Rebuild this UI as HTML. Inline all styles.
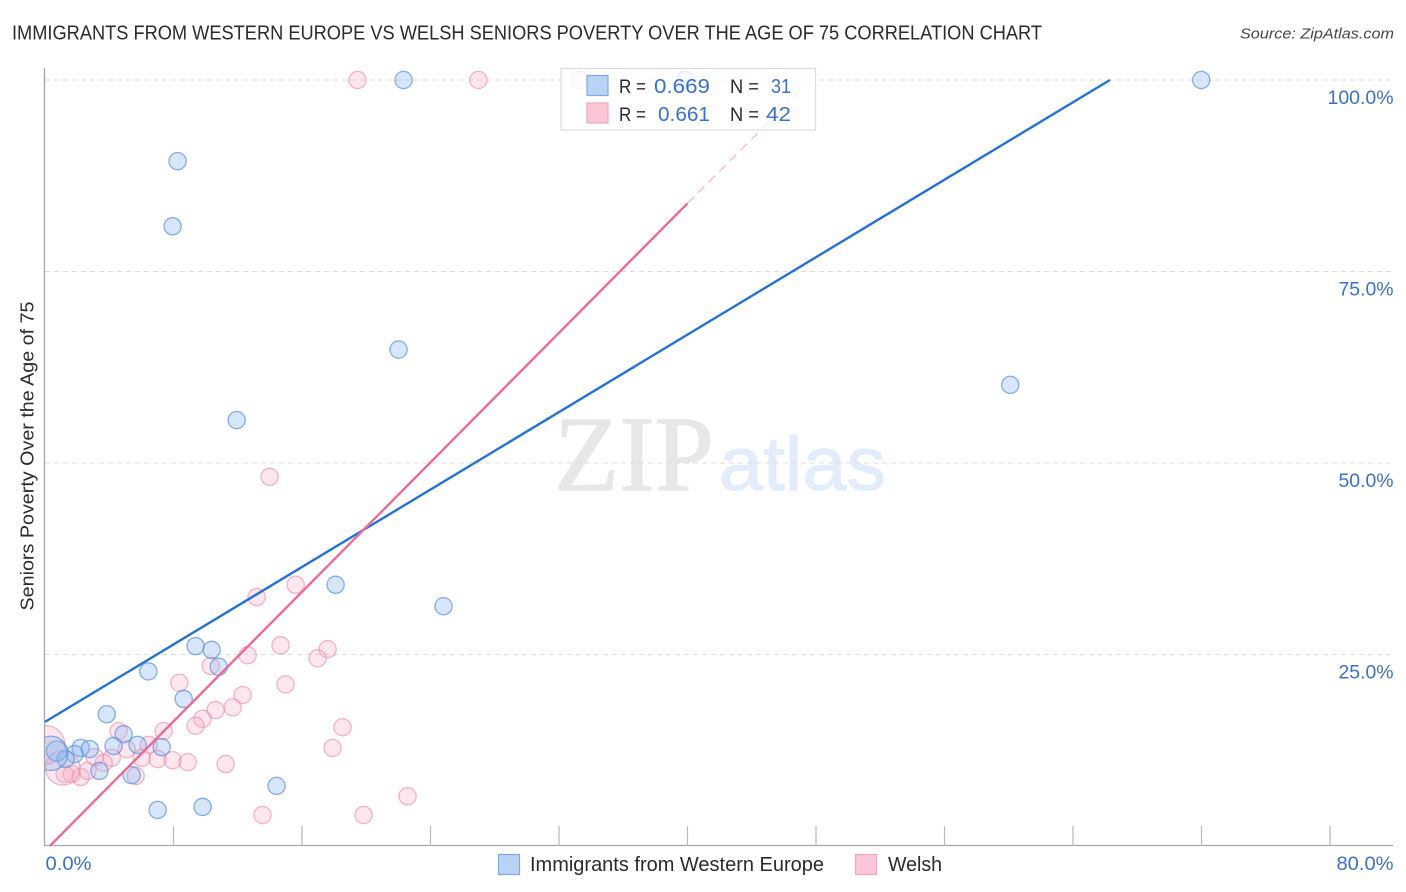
<!DOCTYPE html>
<html lang="en">
<head>
<meta charset="utf-8">
<title>Immigrants from Western Europe vs Welsh Seniors Poverty Correlation Chart</title>
<style>
html,body{margin:0;padding:0;background:#fff;width:1406px;height:892px;overflow:hidden}
svg{display:block;font-family:"Liberation Sans",sans-serif}
</style>
</head>
<body>
<svg id="chart" width="1406" height="892" viewBox="0 0 1406 892" xmlns="http://www.w3.org/2000/svg">
  <text x="12" y="39.5" font-size="20" fill="#2b2b2f" textLength="1030" lengthAdjust="spacingAndGlyphs">IMMIGRANTS FROM WESTERN EUROPE VS WELSH SENIORS POVERTY OVER THE AGE OF 75 CORRELATION CHART</text>
  <text x="1394" y="38.5" font-size="15" font-style="italic" fill="#44464c" text-anchor="end" textLength="154" lengthAdjust="spacingAndGlyphs">Source: ZipAtlas.com</text>
  <g>
    <text x="554" y="490" font-family="'Liberation Serif',serif" font-size="107" fill="#e7e7e7" stroke="#e7e7e7" stroke-width="1.2" textLength="160" lengthAdjust="spacingAndGlyphs">ZIP</text>
    <text x="719" y="490" font-size="76" fill="#e3ecfa" stroke="#e3ecfa" stroke-width="1" textLength="167" lengthAdjust="spacingAndGlyphs">atlas</text>
  </g>
  <g id="grid"></g>
  <g id="points"></g>
  <rect x="0" y="60" width="44.5" height="786" fill="#fff"/>
  <g id="axes"></g>
  <g id="trends"></g>
  <g>
    <rect x="561" y="68.5" width="254.5" height="61.5" fill="#fff" fill-opacity="0.78" stroke="#dcdcdc" stroke-width="1.2"/>
    <rect x="587" y="75.5" width="21" height="20" fill="#b9d3f7" stroke="#7fa9e3" stroke-width="1.2"/>
    <rect x="587" y="103" width="21" height="20" fill="#fcc6d7" stroke="#f2a6bf" stroke-width="1.2"/>
    <text x="619" y="93" font-size="19" fill="#2b2b2f" textLength="27" lengthAdjust="spacingAndGlyphs">R =</text>
    <text x="710" y="93" font-size="20.5" fill="#3b70cf" text-anchor="end" textLength="56" lengthAdjust="spacingAndGlyphs">0.669</text>
    <text x="730" y="93" font-size="19" fill="#2b2b2f" textLength="29" lengthAdjust="spacingAndGlyphs">N =</text>
    <text x="791" y="93" font-size="20.5" fill="#3b70cf" text-anchor="end" textLength="20" lengthAdjust="spacingAndGlyphs">31</text>
    <text x="619" y="121" font-size="19" fill="#2b2b2f" textLength="27" lengthAdjust="spacingAndGlyphs">R =</text>
    <text x="710" y="121" font-size="20.5" fill="#3b70cf" text-anchor="end" textLength="52" lengthAdjust="spacingAndGlyphs">0.661</text>
    <text x="730" y="121" font-size="19" fill="#2b2b2f" textLength="29" lengthAdjust="spacingAndGlyphs">N =</text>
    <text x="791" y="121" font-size="20.5" fill="#3b70cf" text-anchor="end" textLength="25" lengthAdjust="spacingAndGlyphs">42</text>
  </g>
  <text transform="translate(33.5,456) rotate(-90)" font-size="18" fill="#2b2b2f" text-anchor="middle" textLength="309" lengthAdjust="spacingAndGlyphs">Seniors Poverty Over the Age of 75</text>
  <g>
    <g>
      <rect x="498.5" y="854.5" width="21" height="20" fill="#b9d3f7" stroke="#7fa9e3" stroke-width="1.2"/>
      <text x="530" y="871" font-size="20" fill="#2b2b2f" textLength="294" lengthAdjust="spacingAndGlyphs">Immigrants from Western Europe</text>
    </g>
    <g>
      <rect x="855.5" y="854.5" width="21" height="20" fill="#fcc6d7" stroke="#f2a6bf" stroke-width="1.2"/>
      <text x="888" y="871" font-size="20" fill="#2b2b2f" textLength="54" lengthAdjust="spacingAndGlyphs">Welsh</text>
    </g>
  </g>
</svg>
<script>
const blueX = [22.28,39.83,71.94,8.21,7.9,21.97,60.05,11.89,18.05,24.77,9.33,10.33,10.77,6.39,8.59,3.8,4.85,4.23,5.72,7.22,2.18,2.74,1.8,1.24,0.68,0.31,3.34,5.35,6.97,9.77,14.37];
const blueY = [100,100,100,89.4,80.9,64.8,60.2,55.6,34.1,31.3,26.1,25.6,23.4,22.8,19.2,17.2,14.6,13.05,13.2,12.9,12.8,12.65,12.0,11.35,12.4,12.1,9.8,9.25,4.7,5.1,7.85];
const blueWeight = [1,1,1,1,1,1,1,1,1,1,1,1,1,1,1,1,1,1,1,1,1,1,1,1,1.4,4,1,1,1,1,1];
const pinkX = [19.41,26.94,33.29,13.94,15.56,13.13,14.62,17.55,16.93,12.57,10.27,8.32,14.93,12.26,11.64,10.58,9.77,9.33,18.48,7.34,4.54,17.86,6.41,5.04,4.11,5.97,6.97,7.9,8.84,11.2,3.61,2.61,3.05,2.18,1.62,1.18,5.6,22.53,13.5,19.79,1.06,0];
const pinkY = [100,100,100,48.2,34.1,32.5,26.2,25.7,24.5,24.9,23.5,21.3,21.1,19.7,18.1,17.75,16.6,15.7,15.5,15.0,15.0,12.8,13.2,12.65,11.5,11.5,11.35,11.2,10.95,10.7,10.85,9.8,11.6,9.0,9.4,9.4,9.15,6.5,4.05,4.05,10.2,13.2];
const pinkWeight = [1,1,1,1,1,1,1,1,1,1,1,1,1,1,1,1,1,1,1,1,1,1,1,1,1,1,1,1,1,1,1,1,1,1,1,1,1,1,1,1,4,5];
const blueTrendX = [0,66.3];
const blueTrendY = [16.2,100];
const pinkTrendX = [0.3,40];
const pinkTrendY = [0,83.9];
const pinkTrendDashX = [40,47.3];
const pinkTrendDashY = [83.9,99.2];
const xTickValues = [8,16,24,32,40,48,56,64,72,80];
const yGridValues = [25,50,75,100];
const yTickLabels = ["25.0%","50.0%","75.0%","100.0%"];
const xEndValues = [0,80];
const xEndLabels = ["0.0%","80.0%"];

const NS = 'http://www.w3.org/2000/svg';
const sx = v => 45 + v * 16.0625;
const sy = v => 846 - v * 7.66;
const px = v => sx(v) + 0.7;
function mk(tag, attrs, parent, text) {
  const el = document.createElementNS(NS, tag);
  for (const k in attrs) el.setAttribute(k, attrs[k]);
  if (text !== undefined) el.textContent = text;
  parent.appendChild(el);
  return el;
}
const grid = document.getElementById('grid');
const axes = document.getElementById('axes');
const points = document.getElementById('points');
const trends = document.getElementById('trends');

yGridValues.forEach((v, i) => {
  const line = mk('line', {x1: 45, x2: 1393, y1: sy(v), y2: sy(v), stroke: '#dcdcdc', 'stroke-width': 1.1, 'stroke-dasharray': '5 4'}, grid);
  
  
  const label = mk('text', {x: 1393.5, y: sy(v) + 24, 'font-size': 19.5, fill: '#3b70cf', 'text-anchor': 'end', textLength: yTickLabels[i].length === 6 ? 66 : 55, lengthAdjust: 'spacingAndGlyphs'}, axes, yTickLabels[i]);
  
  
});

const yAxis = mk('line', {x1: 44.5, x2: 44.5, y1: 68, y2: 846, stroke: '#a8a8a8', 'stroke-width': 1.3}, axes);


const xAxis = mk('line', {x1: 44, x2: 1393, y1: 845.5, y2: 845.5, stroke: '#a8a8a8', 'stroke-width': 1.3}, axes);



xTickValues.forEach(v => {
  const tick = mk('line', {x1: sx(v), x2: sx(v), y1: 826, y2: 846, stroke: '#b8b8b8', 'stroke-width': 1.2}, axes);
  
  
});

xEndValues.forEach((v, i) => {
  const label = mk('text', {x: i === 0 ? 45.5 : 1393.5, y: 870, 'font-size': 19.5, fill: '#3b70cf', 'text-anchor': i === 0 ? 'start' : 'end', textLength: i === 0 ? 46 : 57, lengthAdjust: 'spacingAndGlyphs'}, axes, xEndLabels[i]);
  
  
});

pinkX.forEach((v, i) => {
  const c = mk('circle', {cx: px(v), cy: sy(pinkY[i]), r: 8.6 * Math.sqrt(pinkWeight[i]), fill: '#f7a8c0', 'fill-opacity': 0.27, stroke: '#ec8dac', 'stroke-opacity': 0.65, 'stroke-width': 1.3}, points);
  
  
});
blueX.forEach((v, i) => {
  const c = mk('circle', {cx: px(v), cy: sy(blueY[i]), r: 8.6 * Math.sqrt(blueWeight[i]), fill: '#8ab6f0', 'fill-opacity': 0.34, stroke: '#5c92dc', 'stroke-opacity': 0.72, 'stroke-width': 1.3}, points);
  
  
});

const blueLine = mk('line', {x1: sx(blueTrendX[0]), y1: sy(blueTrendY[0]), x2: sx(blueTrendX[1]), y2: sy(blueTrendY[1]), stroke: '#2472d6', 'stroke-width': 2.4}, trends);


const pinkLine = mk('line', {x1: sx(pinkTrendX[0]), y1: sy(pinkTrendY[0]), x2: sx(pinkTrendX[1]), y2: sy(pinkTrendY[1]), stroke: '#ec6a98', 'stroke-width': 2.4}, trends);


const pinkDash = mk('line', {x1: sx(pinkTrendDashX[0]), y1: sy(pinkTrendDashY[0]), x2: sx(pinkTrendDashX[1]), y2: sy(pinkTrendDashY[1]), stroke: '#f0a6bf', 'stroke-width': 1, 'stroke-dasharray': '9 6'}, trends);


</script>
</body>
</html>
